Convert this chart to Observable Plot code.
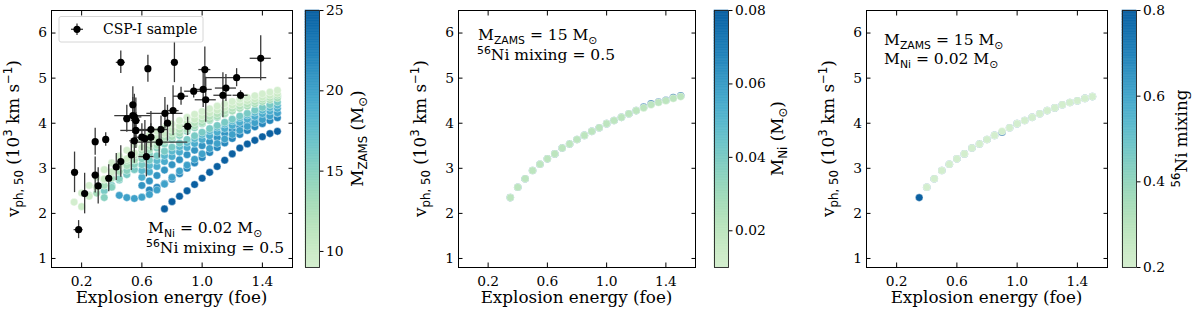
<!DOCTYPE html>
<html><head><meta charset="utf-8">
<script src="https://cdn.jsdelivr.net/npm/d3@7"></script>
<script src="https://cdn.jsdelivr.net/npm/@observablehq/plot@0.6"></script>
<style>
html,body{margin:0;padding:0;background:#fff;}
#root{position:relative;width:1200px;height:312px;overflow:hidden;}
#root > svg{position:absolute;top:0;overflow:visible;}
text{white-space:pre;}
</style></head><body><div id="root"></div>
<script>
// ---------- data ----------
const energies = [0.15,0.20,0.25,0.30,0.35,0.40,0.45,0.50,0.55,0.60,0.65,0.70,0.75,0.80,0.85,0.90,0.95,1.00,1.05,1.10,1.15,1.20,1.25,1.30,1.35,1.40,1.45,1.50];
const _ = null;
// panel 1: v_ph,50 per progenitor mass (M_Ni = 0.02, mixing = 0.5)
const vphM25 = [_,_,_,_,_,_,_,_,_,_,_,_,2.10,2.26,2.38,2.50,2.64,2.78,2.91,3.04,3.18,3.32,3.45,3.54,3.62,3.70,3.77,3.82];
const vphM22 = [_,_,_,_,_,_,_,_,_,_,2.52,2.58,2.66,2.76,2.88,3.00,3.12,3.24,3.35,3.46,3.56,3.66,3.75,3.84,3.92,3.99,4.06,4.12];
const vphM21 = [_,_,_,_,_,_,_,_,_,2.62,2.72,2.84,2.96,3.08,3.19,3.30,3.40,3.50,3.59,3.68,3.77,3.85,3.93,4.00,4.06,4.12,4.17,4.22];
const vphM20 = [_,_,_,_,_,_,2.40,2.35,2.33,2.36,2.42,2.52,2.65,2.80,2.94,3.07,3.20,3.32,3.44,3.55,3.65,3.75,3.84,3.93,4.01,4.08,4.16,4.23];
const vphM19 = [_,_,_,_,_,_,_,_,_,2.80,2.92,3.04,3.15,3.26,3.36,3.46,3.55,3.64,3.72,3.80,3.88,3.95,4.02,4.09,4.15,4.21,4.27,4.33];
const vphM18 = [_,_,_,_,_,_,_,_,_,2.95,3.06,3.17,3.28,3.38,3.48,3.57,3.66,3.75,3.83,3.91,3.98,4.05,4.12,4.18,4.24,4.29,4.35,4.40];
const vphM16 = [_,_,_,_,2.50,2.62,2.74,2.86,2.97,3.08,3.18,3.28,3.38,3.47,3.56,3.64,3.72,3.80,3.88,3.95,4.02,4.09,4.16,4.22,4.29,4.35,4.41,4.47];
const vphM15 = [_,_,_,_,2.35,2.58,2.77,2.95,3.09,3.21,3.32,3.45,3.54,3.64,3.73,3.82,3.90,3.99,4.06,4.13,4.21,4.28,4.34,4.41,4.46,4.50,4.55,4.59];
const vphM13 = [_,_,_,2.45,2.62,2.78,2.93,3.06,3.18,3.30,3.41,3.51,3.61,3.70,3.78,3.86,3.94,4.01,4.08,4.15,4.21,4.27,4.33,4.38,4.43,4.48,4.52,4.56];
const vphM12 = [_,_,2.40,2.58,2.75,2.90,3.04,3.17,3.29,3.40,3.50,3.60,3.69,3.78,3.86,3.94,4.01,4.08,4.15,4.21,4.27,4.33,4.38,4.43,4.48,4.53,4.57,4.62];
const vphM10 = [_,2.15,2.38,2.58,2.76,2.92,3.07,3.21,3.34,3.46,3.57,3.67,3.77,3.86,3.94,4.02,4.09,4.16,4.23,4.29,4.35,4.40,4.45,4.50,4.54,4.58,4.62,4.66];
const vphM9  = [2.25,2.45,2.62,2.80,2.97,3.12,3.27,3.40,3.52,3.63,3.73,3.82,3.90,3.98,4.06,4.13,4.20,4.26,4.32,4.38,4.43,4.48,4.53,4.57,4.61,4.65,4.69,4.73];
const massValues = [25,22,21,20,19,18,16,15,13,12,10,9];
const massCurves = [vphM25,vphM22,vphM21,vphM20,vphM19,vphM18,vphM16,vphM15,vphM13,vphM12,vphM10,vphM9];

// panel 2: M_ZAMS = 15, mixing = 0.5, varying M_Ni
const niValues = [0.08, 0.02];
const vphNi008 = [_,_,_,_,2.35,2.58,2.77,2.95,3.09,3.21,3.32,3.45,3.54,3.64,3.73,3.82,3.90,3.99,4.06,4.13,4.21,4.28,4.36,4.43,4.47,4.51,4.57,4.61];
const vphNi002 = [_,_,_,_,2.35,2.58,2.77,2.95,3.09,3.21,3.32,3.45,3.54,3.64,3.73,3.82,3.90,3.99,4.06,4.13,4.21,4.28,4.34,4.41,4.46,4.50,4.55,4.59];

// panel 3: M_ZAMS = 15, M_Ni = 0.02, varying mixing
const mixValues = [0.8, 0.2];
const vphMix08 = [_,_,_,_,2.35,2.58,2.77,2.95,3.09,3.21,3.32,3.45,3.54,3.64,3.73,3.80,3.90,3.99,4.06,4.13,4.21,4.28,4.34,4.41,4.46,4.50,4.55,4.59];
const vphMix02 = [_,_,_,_,_,2.58,2.77,2.95,3.09,3.21,3.32,3.45,3.54,3.64,3.73,3.82,3.90,3.99,4.06,4.13,4.21,4.28,4.34,4.41,4.46,4.50,4.55,4.59];

// CSP-I sample
const cspE    = [0.153,0.18,0.22,0.29,0.29,0.31,0.36,0.38,0.43,0.46,0.46,0.50,0.53,0.54,0.54,0.55,0.56,0.56,0.55,0.60,0.62,0.63,0.64,0.66,0.66,0.715,0.727,0.753,0.77,0.807,0.816,0.86,0.904,0.944,1.007,1.018,1.024,1.138,1.158,1.229,1.255,1.389];
const cspV    = [2.91,1.64,2.44,3.59,2.85,2.61,3.64,2.78,3.03,3.15,5.35,4.10,3.30,4.41,4.17,4.14,4.06,3.84,3.61,3.69,3.66,3.26,5.21,3.86,3.69,3.58,3.86,4.22,4.00,4.28,5.35,4.60,3.93,4.71,4.75,5.19,4.52,4.62,4.78,5.01,4.62,5.44];
const cspEErr = [0.01,0.03,0.01,0.01,0.02,0.01,0.01,0.02,0.02,0.01,0.03,0.02,0.01,0.01,0.12,0.05,0.03,0.10,0.03,0.05,0.04,0.05,0.01,0.08,0.02,0.19,0.05,0.12,0.02,0.04,0.02,0.05,0.03,0.06,0.06,0.04,0.07,0.06,0.07,0.20,0.05,0.07];
const cspVErr = [0.45,0.20,0.45,0.30,0.40,0.40,0.15,0.30,0.30,0.35,0.25,0.30,0.35,0.40,0.40,0.50,0.50,0.40,0.50,0.30,0.40,0.45,0.30,0.40,0.30,0.35,0.30,0.35,0.40,0.55,0.45,0.20,0.20,0.15,0.40,0.50,0.50,0.50,0.30,0.20,0.10,0.50];

const xTicks = [0.2, 0.6, 1.0, 1.4];
const yTicks = [1, 2, 3, 4, 5, 6];
const cb1Ticks = [10, 15, 20, 25];
const cb2Ticks = [0.02, 0.04, 0.06, 0.08];
const cb3Ticks = [0.2, 0.4, 0.6, 0.8];

// ---------- helpers ----------
const rows = (vals, curves) => vals.flatMap((c, k) => curves[k].map((v, i) => ({e: energies[i], v, c})).filter(d => d.v != null));
const modelRows = rows(massValues, massCurves);
const niRows = rows(niValues, [vphNi008, vphNi002]);
const mixRows = rows(mixValues, [vphMix08, vphMix02]);
const csp = cspE.map((e, i) => ({e, v: cspV[i], de: cspEErr[i], dv: cspVErr[i]}));

const gnbu = t => d3.interpolateGnBu(0.2 + 0.7 * t);
const root = document.getElementById("root");
const TOP = 10, BOT = 45, H = 312;
const SERIF = "DejaVu Serif", SANS = "DejaVu Sans";

function rich(sel, x, y, parts, size, opts = {}) {
  const t = sel.append("text").attr("font-family", SERIF).attr("font-size", size).attr("fill", "black")
    .attr("text-anchor", opts.anchor || "start");
  if (opts.rotate) {
    t.attr("transform", `translate(${x},${y}) rotate(-90)`).attr("x", 0).attr("y", 0);
  } else t.attr("x", x).attr("y", y);
  let cur = 0;
  for (const [s, k] of parts) {
    const off = k === "sub" ? 0.24 * size : k === "sup" ? -0.4 * size : 0;
    const ts = t.append("tspan").text(s).attr("dy", off - cur);
    if (k !== "n") ts.attr("font-size", size * 0.7).attr("font-family", SANS);
    cur = off;
  }
  return t;
}

function panel({frameL, frameR, data, colorDomain, withCsp = false}) {
  const left = frameL - 51;
  const width = frameR - left + 4;
  const svg = Plot.plot({
    width, height: H, marginLeft: 51, marginRight: 4, marginTop: TOP, marginBottom: BOT,
    x: {domain: [0, 1.6]}, y: {domain: [0.8, 6.5]},
    color: {type: "linear", domain: colorDomain, interpolate: gnbu},
    style: {fontFamily: SERIF, fontSize: "13.8px", background: "transparent", color: "black"},
    marks: [
      Plot.dot(data, {x: "e", y: "v", fill: "c", r: 3.8, stroke: "white", strokeWidth: 0.4}),
      ...(withCsp ? [
        Plot.ruleX(csp, {x: "e", y1: d => d.v - d.dv, y2: d => d.v + d.dv, stroke: "#3a3a3a", strokeWidth: 1.3}),
        Plot.ruleY(csp, {y: "v", x1: d => d.e - d.de, x2: d => d.e + d.de, stroke: "#3a3a3a", strokeWidth: 1.3}),
        Plot.dot(csp, {x: "e", y: "v", fill: "black", r: 3.6})
      ] : []),
      Plot.frame({stroke: "black", strokeWidth: 1}),
      Plot.axisX(xTicks, {anchor: "bottom", tickSize: 0, tickPadding: 8.5, tickFormat: d => d.toFixed(1), label: null}),
      Plot.axisX(xTicks, {anchor: "bottom", tickSize: -4.5, tickFormat: () => "", label: null}),
      Plot.axisX(xTicks, {anchor: "top", tickSize: -4.5, tickFormat: () => "", label: null}),
      Plot.axisY(yTicks, {anchor: "left", tickSize: 0, tickPadding: 4.5, label: null}),
      Plot.axisY(yTicks, {anchor: "left", tickSize: -4.5, tickFormat: () => "", label: null}),
      Plot.axisY(yTicks, {anchor: "right", tickSize: -4.5, tickFormat: () => "", label: null})
    ]
  });
  svg.style.left = left + "px";
  root.appendChild(svg);
  const s = d3.select(svg);
  const cy = (TOP + (H - BOT)) / 2;
  rich(s, 51 - 32, cy, [["v","n"],["ph, 50","sub"],[" (10","n"],["3","sup"],[" km s","n"],["\u22121","sup"],[")","n"]], 16.8, {rotate: true, anchor: "middle"}).attr("dy", "0.35em");
  rich(s, 51 + (frameR - frameL) / 2, 303, [["Explosion energy (foe)","n"]], 16.8, {anchor: "middle"});
  return {s, left};
}

function colorbar({cbL, cbW = 14, domain, ticks, fmt, labelParts, labelOffset}) {
  const left = cbL - 2;
  const n = 160;
  const slices = d3.range(n);
  const [lo, hi] = domain;
  const svg = Plot.plot({
    width: 2 + cbW + 90, height: H, marginLeft: 2, marginRight: 90, marginTop: TOP, marginBottom: BOT,
    x: {domain: [0, 1], axis: null}, y: {domain},
    color: {type: "linear", domain, interpolate: gnbu},
    style: {fontFamily: SERIF, fontSize: "13.8px", background: "transparent", color: "black"},
    marks: [
      Plot.rect(slices, {x1: 0, x2: 1, y1: i => lo + (hi - lo) * i / n, y2: i => lo + (hi - lo) * (i + 1) / n,
        fill: i => lo + (hi - lo) * (i + 0.5) / n, stroke: i => lo + (hi - lo) * (i + 0.5) / n, strokeWidth: 0.6}),
      Plot.frame({stroke: "#222", strokeWidth: 0.9}),
      Plot.axisY(ticks, {anchor: "right", tickSize: 3.5, tickPadding: 3, tickFormat: fmt, label: null})
    ]
  });
  svg.style.left = left + "px";
  root.appendChild(svg);
  const s = d3.select(svg);
  rich(s, 2 + cbW + labelOffset, (TOP + (H - BOT)) / 2, labelParts, 16.8, {rotate: true, anchor: "middle"}).attr("dy", "0.35em");
}

// ---------- panel 1 ----------
const p1 = panel({frameL: 51, frameR: 292, data: modelRows, colorDomain: [9, 25], withCsp: true});
{
  const s = p1.s, ox = p1.left;
  s.append("rect").attr("x", 59 - ox).attr("y", 16.5).attr("width", 144).attr("height", 25.5).attr("rx", 2)
    .attr("fill", "white").attr("fill-opacity", 0.8).attr("stroke", "#d6d6d6").attr("stroke-width", 1);
  s.append("line").attr("x1", 71 - ox).attr("x2", 83 - ox).attr("y1", 29.3).attr("y2", 29.3).attr("stroke", "#3a3a3a").attr("stroke-width", 1.3);
  s.append("line").attr("x1", 77 - ox).attr("x2", 77 - ox).attr("y1", 23.5).attr("y2", 35).attr("stroke", "#3a3a3a").attr("stroke-width", 1.3);
  s.append("circle").attr("cx", 77 - ox).attr("cy", 29.3).attr("r", 3.6).attr("fill", "black");
  rich(s, 103 - ox, 33.8, [["CSP-I sample","n"]], 14);
  rich(s, 148 - ox, 233, [["M","n"],["Ni","sub"],[" = 0.02 M","n"],["\u2299","sub"]], 15.5);
  rich(s, 146 - ox, 253, [["56","sup"],["Ni mixing = 0.5","n"]], 15.5);
}
colorbar({cbL: 305, domain: [9, 25], ticks: cb1Ticks, fmt: d => String(d),
  labelParts: [["M","n"],["ZAMS","sub"],[" (M","n"],["\u2299","sub"],[")","n"]], labelOffset: 44});

// ---------- panel 2 ----------
const p2 = panel({frameL: 458, frameR: 695, data: niRows, colorDomain: [0.01, 0.08]});
rich(p2.s, 478 - p2.left, 40, [["M","n"],["ZAMS","sub"],[" = 15 M","n"],["\u2299","sub"]], 15.5);
rich(p2.s, 477 - p2.left, 60, [["56","sup"],["Ni mixing = 0.5","n"]], 15.5);
colorbar({cbL: 714, domain: [0.01, 0.08], ticks: cb2Ticks, fmt: d => d.toFixed(2),
  labelParts: [["M","n"],["Ni","sub"],[" (M","n"],["\u2299","sub"],[")","n"]], labelOffset: 55});

// ---------- panel 3 ----------
const p3 = panel({frameL: 866, frameR: 1107, data: mixRows, colorDomain: [0.2, 0.8]});
rich(p3.s, 884 - p3.left, 45, [["M","n"],["ZAMS","sub"],[" = 15 M","n"],["\u2299","sub"]], 15.5);
rich(p3.s, 884 - p3.left, 64, [["M","n"],["Ni","sub"],[" = 0.02 M","n"],["\u2299","sub"]], 15.5);
colorbar({cbL: 1122, domain: [0.2, 0.8], ticks: cb3Ticks, fmt: d => d.toFixed(1),
  labelParts: [["56","sup"],["Ni mixing","n"]], labelOffset: 51});
</script></body></html>
